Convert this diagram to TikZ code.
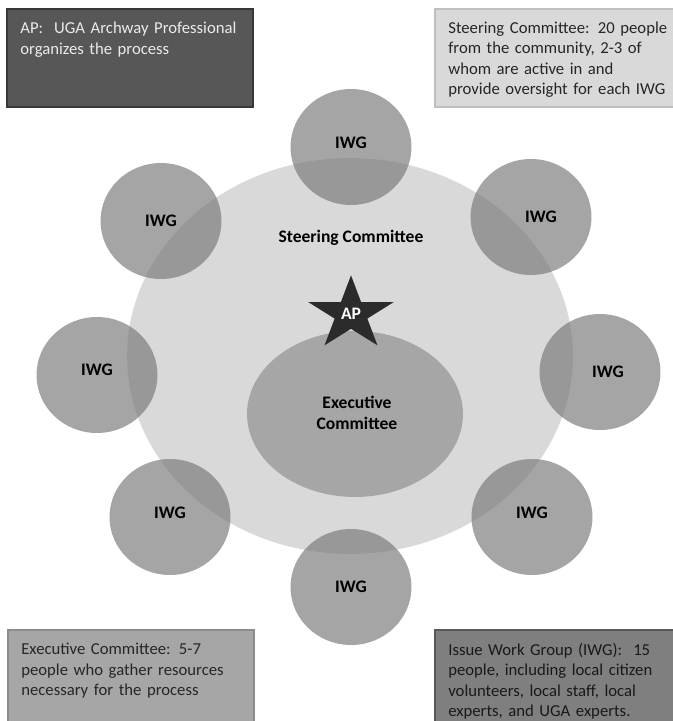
\documentclass[tikz,border=0pt]{standalone}
\usepackage{fontspec}
\setmainfont{Carlito}
\usetikzlibrary{shapes.geometric}
\definecolor{ApGray}{HTML}{575757}
\definecolor{SteerGray}{HTML}{D9D9D9}
\definecolor{ExecGray}{HTML}{A6A6A6}
\definecolor{IwgGray}{HTML}{7F7F7F}
\definecolor{StarInk}{HTML}{2B2B2B}

\begin{document}
\begin{tikzpicture}[
      x=0.02cm, y=-0.02cm,
      font=\fontsize{9.5}{11.6}\selectfont,
      notebox/.style={
        anchor=north west,
        minimum width=4.92cm,
        inner sep=0pt,
        line width=0.9pt
      },
      notetext/.style={anchor=north west, align=left, text width=4.7cm, inner sep=0pt},
      tag/.style={font=\fontsize{10}{12}\selectfont\bfseries, align=center},
      iwg/.style={
        ellipse,
        fill=black!52,
        fill opacity=0.68,
        minimum width=2.42cm,
        minimum height=2.32cm
      }
    ]
      \useasboundingbox (0,0) rectangle (673,721);

      % notes in the four corners
      \node[notebox, fill=ApGray, draw=black!78, minimum height=1.96cm] (apbox) at (6,8) {};
      \node[notetext, text=black!8] (aptext) at ([xshift=0.28cm, yshift=-0.28cm]apbox.north west)
        {AP:\ \ UGA Archway Professional\\organizes the process};
      \node[notebox, fill=SteerGray, draw=black!25, minimum height=1.96cm] (steerbox) at (434,8) {};
      \node[notetext, text=black!85] (steertext) at ([xshift=0.28cm, yshift=-0.27cm]steerbox.north west)
        {Steering Committee: 20 people\\from the community, 2-3 of\\whom are active in and\\provide oversight for each IWG};
      \node[notebox, fill=ExecGray, draw=black!45, minimum height=2.5cm] (execbox) at (7,629) {};
      \node[notetext, text=black!85] (exectext) at ([xshift=0.28cm, yshift=-0.28cm]execbox.north west)
        {Executive Committee: 5-7\\people who gather resources\\necessary for the process};
      \node[notebox, fill=IwgGray, draw=black!65, minimum height=2.5cm] (iwgbox) at (434,629) {};
      \node[notetext, text=black!90] (iwgtext) at ([xshift=0.28cm, yshift=-0.28cm]iwgbox.north west)
        {Issue Work Group (IWG):\ \ 15\\people, including local citizen\\volunteers, local staff, local\\experts, and UGA experts.};

      % committees
      \node[ellipse, fill=SteerGray, minimum width=8.92cm, minimum height=7.92cm] (steer) at (350,356) {};
      \node[tag] (steertag) at (351,238) {Steering Committee};
      \node[ellipse, fill=ExecGray, minimum width=4.32cm, minimum height=3.32cm] (exec) at (355,414) {};
      \node[tag] (exectag) at (357,413) {Executive\\Committee};

      % the AP star
      \begin{scope}[shift={(351,314)}, xscale=45, yscale=38.7]
        \fill[StarInk] (-90:1) -- (-54:0.382) -- (-18:1) -- (18:0.382) -- (54:1) -- (90:0.382)
          -- (126:1) -- (162:0.382) -- (198:1) -- (234:0.382) -- cycle;
      \end{scope}
      \node[tag, text=white] (ap) at (351,314) {AP};

      % issue work groups
      \node[iwg] (iwgn)  at (351,147) {};
      \node[iwg] (iwgne) at (531,217) {};
      \node[iwg] (iwge)  at (600,372) {};
      \node[iwg] (iwgse) at (532,517) {};
      \node[iwg] (iwgs)  at (351,587) {};
      \node[iwg] (iwgsw) at (170,517) {};
      \node[iwg] (iwgw)  at (97,375) {};
      \node[iwg] (iwgnw) at (161,221) {};

      \node[tag] (tagn)  at ([yshift=0.08cm]iwgn) {IWG};
      \node[tag] (tagne) at ([xshift=0.2cm]iwgne) {IWG};
      \node[tag] (tage)  at ([xshift=0.16cm]iwge) {IWG};
      \node[tag] (tagse) at ([yshift=0.08cm]iwgse) {IWG};
      \node[tag] (tags)  at (iwgs) {IWG};
      \node[tag] (tagsw) at ([yshift=0.08cm]iwgsw) {IWG};
      \node[tag] (tagw)  at ([yshift=0.1cm]iwgw) {IWG};
      \node[tag] (tagnw) at (iwgnw) {IWG};
    \end{tikzpicture}
\end{document}
